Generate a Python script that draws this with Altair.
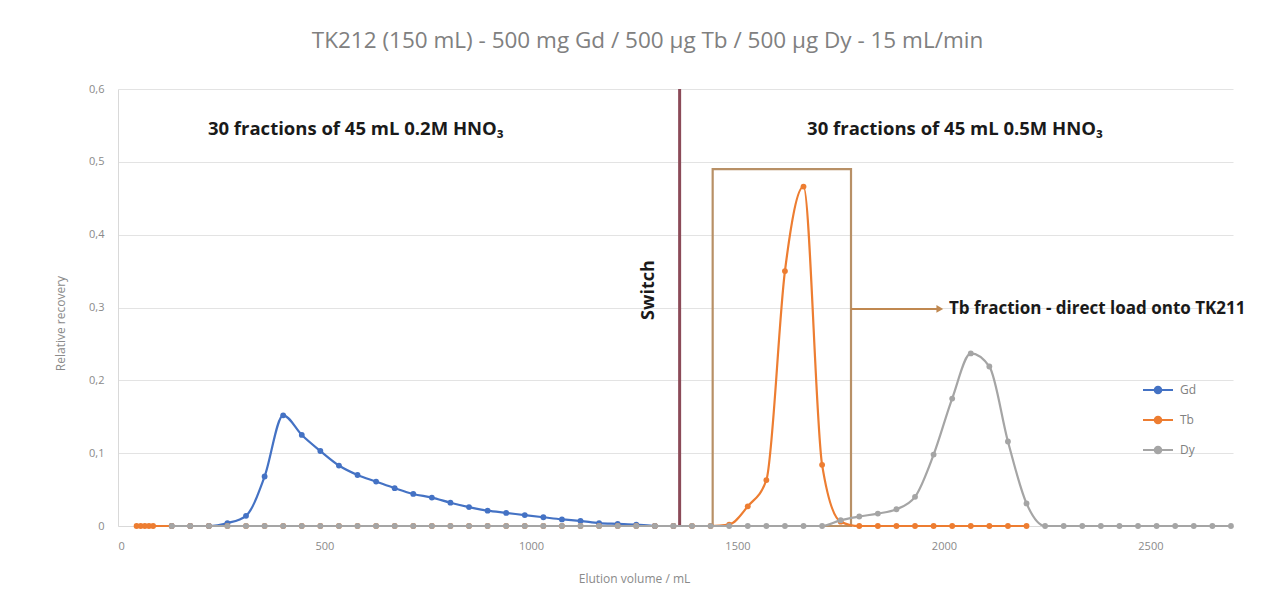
import altair as alt
import pandas as pd

# ---------------- data ----------------
series_names = ["Gd", "Tb", "Dy"]
series_colors = ["#4472C4", "#ED7D31", "#A5A5A5"]

gd_x = [130, 175, 220, 265, 310, 355, 400, 445, 490, 535, 580, 625, 670, 715,
        760, 805, 850, 895, 940, 985, 1030, 1075, 1120, 1165, 1210, 1255, 1300, 1345]
gd_y = [0, 0, 0, 0.004, 0.014, 0.068, 0.152, 0.125, 0.103, 0.083, 0.070, 0.061, 0.052, 0.044,
        0.039, 0.032, 0.026, 0.021, 0.018, 0.015, 0.012, 0.009, 0.007, 0.004, 0.003, 0.002, 0, 0]

tb_x = [45, 55, 65, 75, 85, 130, 175, 220, 265, 310, 355, 400, 445, 490, 535, 580, 625,
        670, 715, 760, 805, 850, 895, 940, 985, 1030, 1075, 1120, 1165, 1210, 1255, 1300,
        1345, 1390, 1435, 1480, 1525, 1570, 1615, 1660, 1705, 1750, 1795, 1840, 1885,
        1930, 1975, 2020, 2065, 2110, 2155, 2200]
tb_y = [0, 0, 0, 0, 0, 0, 0, 0, 0, 0, 0, 0, 0, 0, 0, 0, 0,
        0, 0, 0, 0, 0, 0, 0, 0, 0, 0, 0, 0, 0, 0, 0,
        0, 0, 0, 0.002, 0.027, 0.063, 0.350, 0.466, 0.084, 0.006, 0, 0, 0,
        0, 0, 0, 0, 0, 0, 0]

dy_x = [130, 175, 220, 265, 310, 355, 400, 445, 490, 535, 580, 625, 670, 715, 760, 805,
        850, 895, 940, 985, 1030, 1075, 1120, 1165, 1210, 1255, 1300, 1345, 1390, 1435,
        1480, 1525, 1570, 1615, 1660, 1705, 1750, 1795, 1840, 1885, 1930, 1975, 2020,
        2065, 2110, 2155, 2200, 2245, 2290, 2335, 2380, 2425, 2470, 2515, 2560, 2605,
        2650, 2695]
dy_y = [0, 0, 0, 0, 0, 0, 0, 0, 0, 0, 0, 0, 0, 0, 0, 0,
        0, 0, 0, 0, 0, 0, 0, 0, 0, 0, 0, 0, 0, 0,
        0, 0, 0, 0, 0, 0, 0.008, 0.013, 0.017, 0.023, 0.040, 0.098, 0.175,
        0.237, 0.219, 0.116, 0.031, 0, 0, 0, 0, 0, 0, 0, 0, 0,
        0, 0]

x_ticks = [0, 500, 1000, 1500, 2000, 2500]
y_ticks = [0, 0.1, 0.2, 0.3, 0.4, 0.5, 0.6]

title_text = "TK212 (150 mL) - 500 mg Gd / 500 µg Tb / 500 µg Dy - 15 mL/min"

zone_labels = ["30 fractions of 45 mL 0.2M HNO₃", "30 fractions of 45 mL 0.5M HNO₃"]
zone_x = [576, 2027]
zone_y = [0.545, 0.545]

switch_x = 1360
box_x = [1440, 1775]
box_top = 0.49
arrow_y = 0.298
arrow_end = 1990
tb_note = "Tb fraction - direct load onto TK211"
tb_note_x = 2012
switch_label_x = 1285
switch_label_y = 0.324

# ---------------- tables ----------------
rows = []
for name, xs, ys in [("Gd", gd_x, gd_y), ("Tb", tb_x, tb_y), ("Dy", dy_x, dy_y)]:
    for xv, yv in zip(xs, ys):
        rows.append({"series": name, "vol": xv, "rec": yv})
df = pd.DataFrame(rows)

X = alt.Scale(domain=[0, 2700], nice=False, zero=False)
Y = alt.Scale(domain=[0, 0.6], nice=False)
cscale = alt.Scale(domain=series_names, range=series_colors)

legend = alt.Legend(
    title=None, orient="none", legendX=1024, legendY=285, padding=0,
    symbolType="M-1,0H1M-0.22,0A0.22,0.22 0 1,0 0.22,0A0.22,0.22 0 1,0 -0.22,0",
    symbolSize=900, symbolStrokeWidth=2, rowPadding=6, labelOffset=6,
    labelFontSize=12, labelColor="#808080", labelFont="Open Sans",
)

x_axis = alt.Axis(values=x_ticks, format="d", grid=False, ticks=False, labelPadding=14,
                  labelFontSize=11, labelColor="#8a8a8a", labelFont="Open Sans",
                  domainColor="#D9D9D9", title="Elution volume / mL",
                  titleFont="Open Sans", titleFontSize=12, titleFontWeight="normal",
                  titleColor="#8a8a8a", titleX=516, titleY=52, titleBaseline="middle")
y_axis = alt.Axis(values=y_ticks, grid=True, gridColor="#E3E3E3", ticks=False,
                  labelPadding=14, labelFontSize=11, labelColor="#8a8a8a",
                  labelFont="Open Sans", domainColor="#D9D9D9",
                  labelExpr="datum.value == 0 ? '0' : replace(format(datum.value, '.1f'), '.', ',')",
                  title="Relative recovery", titleFont="Open Sans", titleFontSize=12,
                  titleFontWeight="normal", titleColor="#8a8a8a",
                  titleX=-58, titleY=234, titleBaseline="middle")


def xq(field):
    return alt.X(field, type="quantitative", scale=X, axis=x_axis)


def yq(field):
    return alt.Y(field, type="quantitative", scale=Y, axis=y_axis)


layers = []
for name in series_names:
    sub = alt.Chart(df).transform_filter(alt.datum.series == name)
    line = sub.mark_line(interpolate="monotone", strokeWidth=2.2).encode(
        x=xq("vol"), y=yq("rec"),
        color=alt.Color("series:N", scale=cscale, legend=legend),
    )
    pts = sub.mark_point(filled=True, size=34, opacity=1).encode(
        x=xq("vol"), y=yq("rec"),
        fill=alt.Fill("series:N", scale=cscale, legend=None),
    )
    layers += [line, pts]

# switch rule
sw = alt.Chart(pd.DataFrame({"vol": [switch_x], "rec": [0], "y2": [0.6]})).mark_rule(
    color="#8B4A58", strokeWidth=3).encode(x=xq("vol"), y=yq("rec"), y2="y2:Q")

# Tb fraction box
box = alt.Chart(pd.DataFrame({"vol": [box_x[0]], "x2": [box_x[1]], "rec": [0], "y2": [box_top]})).mark_rect(
    fill=None, fillOpacity=0, stroke="#B89066", strokeWidth=2.2).encode(
    x=xq("vol"), x2="x2:Q", y=yq("rec"), y2="y2:Q")

arrow = alt.Chart(pd.DataFrame({"vol": [box_x[1]], "x2": [arrow_end], "rec": [arrow_y]})).mark_rule(
    color="#C08850", strokeWidth=2).encode(x=xq("vol"), x2="x2:Q", y=yq("rec"))
head = alt.Chart(pd.DataFrame({"vol": [arrow_end], "rec": [arrow_y]})).mark_point(
    shape="triangle-right", filled=True, size=60, color="#C08850", opacity=1).encode(
    x=xq("vol"), y=yq("rec"))

note = alt.Chart(pd.DataFrame({"vol": [tb_note_x], "rec": [arrow_y], "t": [tb_note]})).mark_text(
    align="left", baseline="middle", font="Open Sans", fontSize=17, fontWeight="bold",
    color="#1a1a1a").encode(x=xq("vol"), y=yq("rec"), text="t:N")

zones = alt.Chart(pd.DataFrame({"vol": zone_x, "rec": zone_y, "t": zone_labels})).mark_text(
    align="center", baseline="middle", font="Open Sans", fontSize=18.5, fontWeight="bold",
    color="#1a1a1a").encode(x=xq("vol"), y=yq("rec"), text="t:N")

swl = alt.Chart(pd.DataFrame({"vol": [switch_label_x], "rec": [switch_label_y], "t": ["Switch"]})).mark_text(
    align="center", baseline="middle", angle=270, font="Open Sans", fontSize=18,
    fontWeight="bold", color="#1a1a1a").encode(x=xq("vol"), y=yq("rec"), text="t:N")

chart = alt.layer(box, arrow, head, sw, *layers, zones, note, swl).properties(
    width=1115, height=437,
    title=alt.TitleParams(title_text, anchor="middle", dx=-28, offset=31,
                          font="Open Sans", fontSize=22.5, fontWeight="normal", color="#808080"),
    autosize=alt.AutoSizeParams(type="none"),
    padding={"left": 110, "top": 81, "right": 26, "bottom": 70},
).configure_view(stroke=None)

chart.save("out.html", embed_options={"renderer": "svg", "actions": False})
